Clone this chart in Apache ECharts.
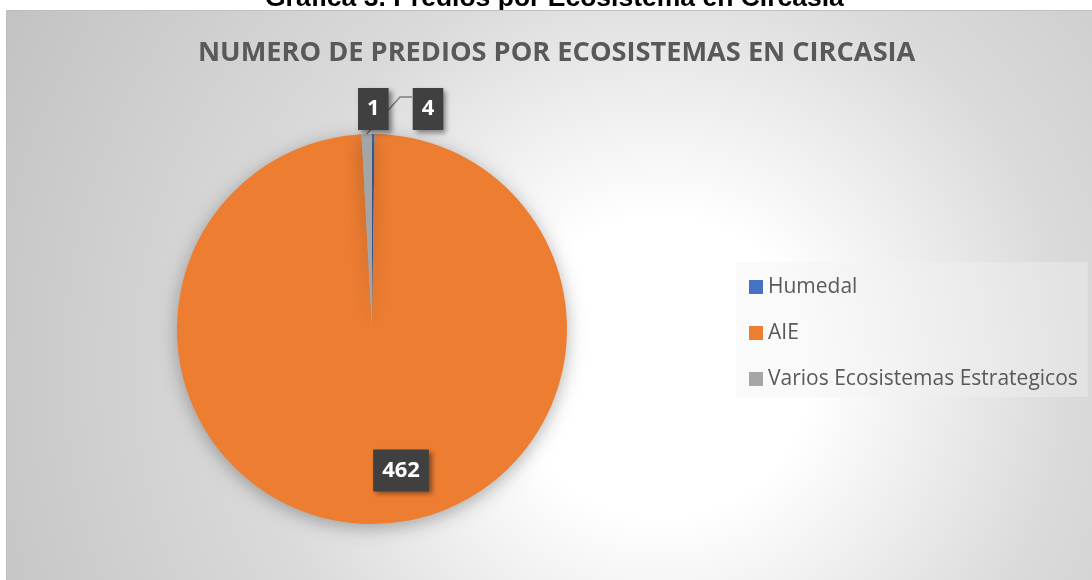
<!DOCTYPE html>
<html>
<head>
<meta charset="utf-8">
<script src="https://cdn.jsdelivr.net/npm/echarts@6/dist/echarts.min.js"></script>
<style>
  html, body { margin: 0; padding: 0; background: #fff; }
  #main { width: 1092px; height: 580px; }
</style>
</head>
<body>
<div id="main"></div>
<script>
// datos de la gráfica
const categories = ['Humedal', 'AIE', 'Varios Ecosistemas Estrategicos'];
const values = [1, 462, 4];
const colors = ['#4472C4', '#ED7D31', '#A5A5A5'];

const chart = echarts.init(document.getElementById('main'));

// etiquetas: caja oscura con sombra
const labelBox = {
    color: '#ffffff',
    fontFamily: 'Open Sans',
    fontWeight: 'bold',
    fontSize: 22,
    lineHeight: 22,
    backgroundColor: '#404040',
    padding: [10, 9],
    shadowColor: 'rgba(0,0,0,0.45)',
    shadowBlur: 5,
    shadowOffsetX: 3,
    shadowOffsetY: 3
};

const pieData = categories.map(function (name, i) {
    const item = {name: name, value: values[i], itemStyle: {color: colors[i]}};
    if (i !== 1) {
        item.label = {position: 'outside'};
        item.labelLine = {show: i === 2};
    }
    return item;
});

chart.setOption({
    animation: false,
    title: [
        {
            text: 'NUMERO DE PREDIOS POR ECOSISTEMAS EN CIRCASIA',
            left: 193,
            top: 35,
            textStyle: {fontFamily: 'Open Sans', fontWeight: 'bold', fontSize: 27.2, color: '#595959'}
        },
        {
            text: 'Gráfica 3. Predios por Ecosistema en Circasia',
            left: 260,
            top: -20,
            z: -20,
            textStyle: {fontFamily: 'Liberation Sans', fontWeight: 'bold', fontSize: 26.5, color: '#000000'}
        }
    ],
    graphic: [
        {
            type: 'rect',
            z: -10,
            silent: true,
            shape: {x: 6.5, y: 10.5, width: 1090, height: 575},
            style: {
                fill: new echarts.graphic.RadialGradient(0.6, 0.62, 1.3, [
                    {offset: 0, color: '#ffffff'},
                    {offset: 0.2, color: '#ffffff'},
                    {offset: 0.55, color: '#dadada'},
                    {offset: 1, color: '#c2c2c2'}
                ]),
                stroke: '#bfbfbf',
                lineWidth: 1
            }
        }
    ],
    legend: {
        orient: 'vertical',
        left: 736,
        top: 262,
        data: categories,
        icon: 'rect',
        itemWidth: 14,
        itemHeight: 14,
        itemGap: 24,
        padding: [14, 10, 7, 13],
        backgroundColor: 'rgba(242,242,242,0.39)',
        textStyle: {fontFamily: 'Open Sans', fontSize: 21, lineHeight: 22, color: '#595959'}
    },
    series: [
        {
            type: 'pie',
            center: [372, 329],
            radius: 195,
            startAngle: 90,
            clockwise: true,
            avoidLabelOverlap: false,
            silent: true,
            data: pieData,
            itemStyle: {
                shadowBlur: 18,
                shadowColor: 'rgba(0,0,0,0.3)',
                shadowOffsetY: 4
            },
            label: Object.assign({show: true, position: 'inside', formatter: '{c}'}, labelBox),
            labelLine: {length: 10, length2: 10, lineStyle: {color: '#7f7f7f', width: 1.5}},
            labelLayout: function (p) {
                const r = p.rect;
                if (p.dataIndex === 0) {
                    return {x: r.x + r.width / 2, y: r.y - 25, align: 'center', verticalAlign: 'middle'};
                }
                if (p.dataIndex === 2) {
                    return {
                        x: r.x + r.width + 56, y: r.y - 25, align: 'center', verticalAlign: 'middle',
                        labelLinePoints: [
                            [r.x + r.width / 2, r.y],
                            [r.x + r.width + 28, r.y - 37],
                            [r.x + r.width + 40, r.y - 37]
                        ]
                    };
                }
                return {dx: 27, dy: 41};
            }
        }
    ]
});
</script>
</body>
</html>
